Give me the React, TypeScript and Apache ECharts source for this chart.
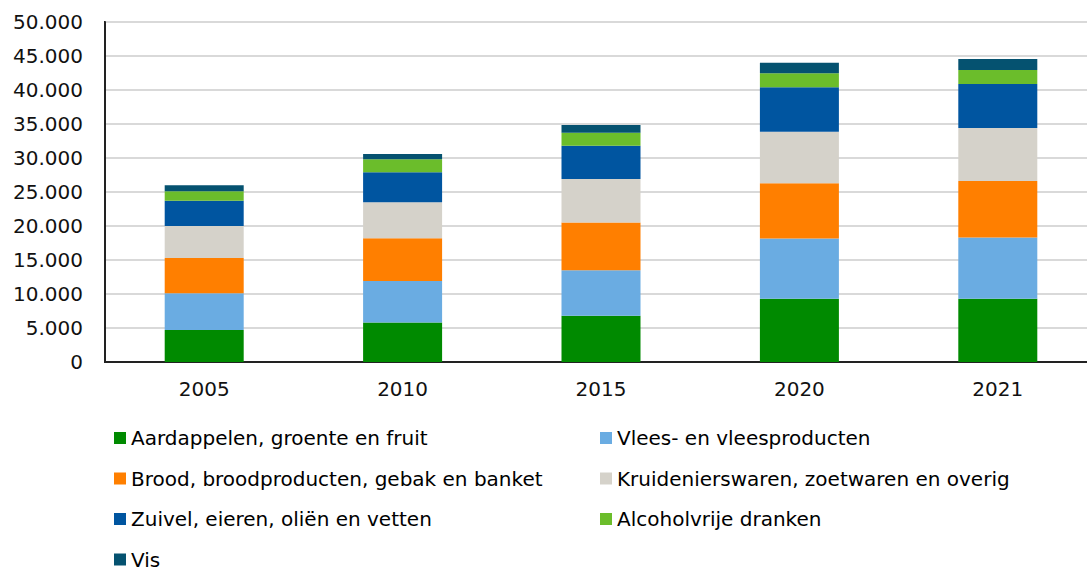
import React, { useEffect, useRef } from "react";
import * as echarts from "echarts";

const years = ["2005", "2010", "2015", "2020", "2021"];
const seriesNames = [
  "Aardappelen, groente en fruit",
  "Vlees- en vleesproducten",
  "Brood, broodproducten, gebak en banket",
  "Kruidenierswaren, zoetwaren en overig",
  "Zuivel, eieren, oliën en vetten",
  "Alcoholvrije dranken",
  "Vis",
];
const aardappelen = [4700, 5800, 6800, 9300, 9300];
const vlees = [5400, 6100, 6700, 8850, 9000];
const brood = [5200, 6300, 7000, 8150, 8300];
const kruideniers = [4700, 5300, 6400, 7550, 7800];
const zuivel = [3700, 4400, 4900, 6550, 6500];
const alcoholvrij = [1400, 1900, 1900, 2050, 2050];
const vis = [900, 800, 1150, 1550, 1600];
const colors = ["#008a00", "#6aace2", "#ff7f00", "#d5d2ca", "#0055a0", "#6bbd2b", "#055270"];

const allValues = [aardappelen, vlees, brood, kruideniers, zuivel, alcoholvrij, vis];
const FONT = "Verdana, 'DejaVu Sans', sans-serif";
const FS = 20;

export default function App() {
  const ref = useRef<HTMLDivElement>(null);
  useEffect(() => {
    if (!ref.current) return;
    const chart = echarts.init(ref.current, null, { renderer: "svg" });
    const legendCommon = {
      orient: "vertical" as const,
      top: 428,
      height: 200,
      itemWidth: 12,
      itemHeight: 12,
      itemGap: 20.5,
      icon: "rect",
      textStyle: { fontFamily: FONT, fontSize: FS, color: "#000", lineHeight: 20 },
      padding: 0,
    };
    chart.setOption({
      animation: false,
      textStyle: { fontFamily: FONT },
      grid: {
        left: 105,
        top: 22,
        width: 992,
        height: 340,
        show: true,
        borderColor: "#222",
        borderWidth: 2,
        containLabel: false,
      },
      legend: [
        { ...legendCommon, left: 114, data: [seriesNames[0], seriesNames[2], seriesNames[4], seriesNames[6]] },
        { ...legendCommon, left: 600, data: [seriesNames[1], seriesNames[3], seriesNames[5]] },
      ],
      xAxis: {
        type: "category",
        data: years,
        axisLine: { show: true, lineStyle: { color: "#222", width: 2 } },
        axisTick: { show: false },
        axisLabel: { fontFamily: FONT, fontSize: FS, color: "#111", margin: 17 },
      },
      yAxis: {
        type: "value",
        min: 0,
        max: 50000,
        interval: 5000,
        axisLine: { show: true, lineStyle: { color: "#222", width: 2 } },
        axisTick: { show: false },
        splitLine: { show: true, lineStyle: { color: "#d9d9d9", width: 2 } },
        axisLabel: {
          fontFamily: FONT,
          fontSize: FS,
          color: "#111",
          margin: 22,
          formatter: (v: number) => v.toLocaleString("de-DE"),
        },
      },
      series: seriesNames.map((name, i) => ({
        name,
        type: "bar",
        stack: "total",
        barWidth: 79,
        data: allValues[i],
        itemStyle: { color: colors[i] },
      })),
    });
    return () => chart.dispose();
  }, []);
  return (
    <div style={{ position: "absolute", left: 0, top: 0, width: 1087, height: 570, overflow: "hidden" }}>
      <div ref={ref} style={{ width: 1100, height: 640 }} />
    </div>
  );
}
